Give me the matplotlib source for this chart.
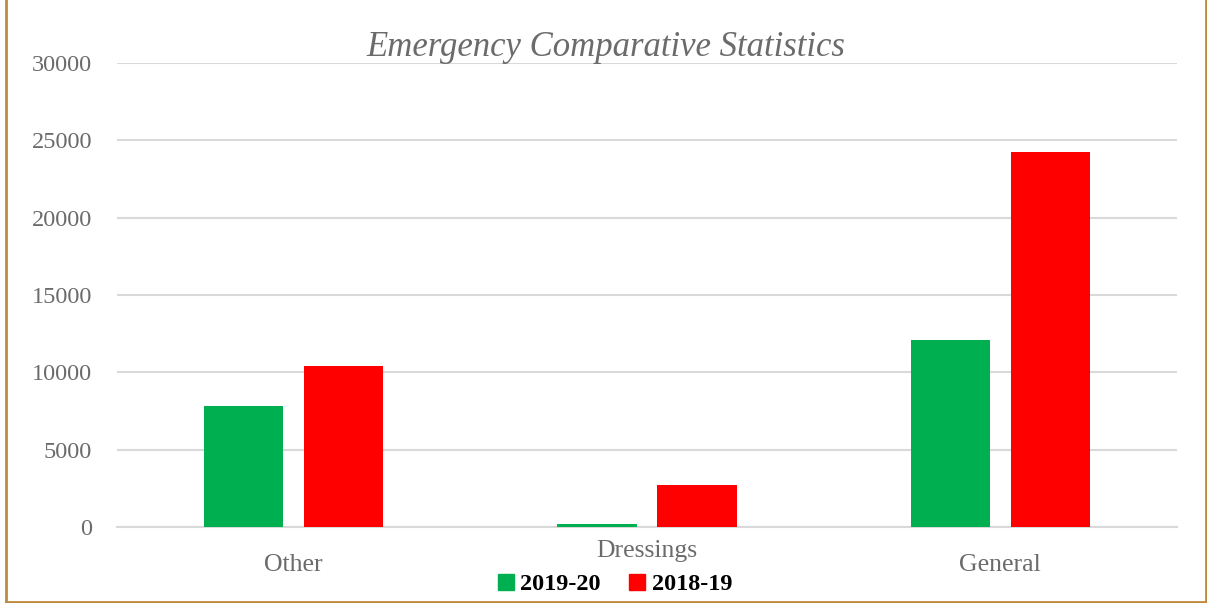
import matplotlib.pyplot as plt
from matplotlib.lines import Line2D
import numpy as np

categories = ["Other", "Dressings", "General"]
series_names = ["2019-20", "2018-19"]
values_2019_20 = [7800, 200, 12100]
values_2018_19 = [10400, 2700, 24250]
yticks = [0, 5000, 10000, 15000, 20000, 25000, 30000]

green = "#00B050"
red = "#FF0000"
grey_text = "#6B6B6B"
border = "#C08A3E"

plt.rcParams['font.family'] = ['Liberation Serif', 'DejaVu Serif']

fig = plt.figure(figsize=(12.07, 6.03), dpi=100)
ax = fig.add_axes([117 / 1207, 76 / 603, 1060 / 1207, 464 / 603])

x = np.arange(len(categories))
width = 0.224
offset = 0.1415
ax.bar(x - offset, values_2019_20, width, color=green, label=series_names[0], zorder=3)
ax.bar(x + offset, values_2018_19, width, color=red, label=series_names[1], zorder=3)

ax.set_xlim(-0.5, len(categories) - 0.5)
ax.set_ylim(0, 30000)
ax.set_yticks(yticks)
ax.set_yticklabels([str(v) for v in yticks])
ax.set_xticks(x)
ax.set_xticklabels([])
ax.tick_params(axis='both', length=0, labelsize=17.5, colors=grey_text)
ax.tick_params(axis='y', pad=18)

# category labels are staggered like in the original (middle one higher)
label_y = [-0.082, -0.051, -0.082]
for xi, name, ly in zip(x, categories, label_y):
    ax.text(xi, ly, name, transform=ax.get_xaxis_transform(), ha='center', va='center',
            fontsize=18.5, color=grey_text)

ax.yaxis.grid(True, color="#D9D9D9", linewidth=1.5, zorder=0)
for side in ["top", "right", "left"]:
    ax.spines[side].set_visible(False)
ax.spines["bottom"].set_color("#D9D9D9")
ax.spines["bottom"].set_linewidth(1.5)

fig.text(606 / 1207, 1 - 47 / 603, "Emergency Comparative Statistics", fontsize=25,
         style='italic', color=grey_text, ha='center', va='center')

handles = [Line2D([], [], marker='s', linestyle='', markersize=11, color=green),
           Line2D([], [], marker='s', linestyle='', markersize=11, color=red)]
fig.legend(handles, series_names, loc='center', bbox_to_anchor=(613 / 1207, 1 - 584 / 603),
           ncol=2, frameon=False, prop={'weight': 'bold', 'size': 17.5},
           handletextpad=0.1, columnspacing=1.0, handlelength=1.0)

# frame lines round the chart (left, right, bottom)
fig.add_artist(Line2D([6 / 1207, 6 / 1207], [0, 1], color=border, linewidth=2))
fig.add_artist(Line2D([1205.5 / 1207, 1205.5 / 1207], [0, 1], color=border, linewidth=2))
fig.add_artist(Line2D([6 / 1207, 1205.5 / 1207], [1.5 / 603, 1.5 / 603], color=border, linewidth=2))

fig.savefig("out.png", dpi=100)
